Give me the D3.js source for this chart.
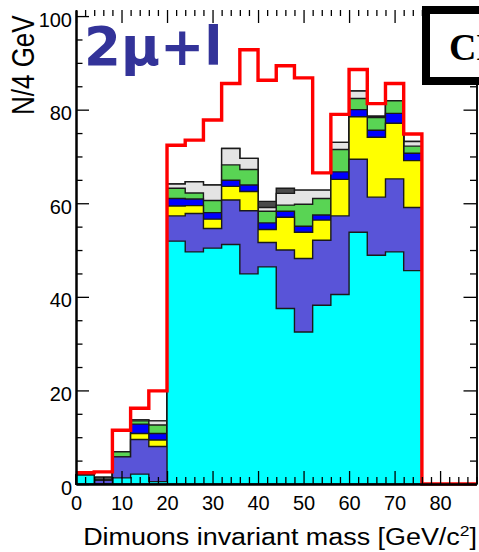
<!DOCTYPE html>
<html>
<head>
<meta charset="utf-8">
<script src="https://cdn.jsdelivr.net/npm/d3@7"></script>
<style>
body { margin: 0; background: #fff; }
svg { display: block; }
</style>
</head>
<body>
<script>
// Width and height
var w = 479,
    h = 552;

// lower edges of the 4 GeV bins
var binLow = [0, 4, 8, 12, 16, 20, 24, 28, 32, 36, 40, 44, 48, 52, 56, 60, 64, 68, 72, 76, 80, 84];

// stacked backgrounds, bottom to top, bins 0-76 GeV
var cyanVals   = [1.9, 0, 1.3, 2.1, 0.5, 51.9, 49.6, 50.4, 51.2, 44.9, 46.4, 37.5, 32.5, 38.2, 40.5, 53.8, 48.9, 49.6, 45.6];
var slateVals  = [0, 0.8, 4.5, 7.4, 7.5, 5.4, 8.2, 4.2, 9.5, 13.5, 5.2, 12.5, 15.7, 13.9, 16.8, 15.6, 12.4, 15.6, 13.5];
var yellowVals = [0, 0, 0, 1.3, 1.4, 2.1, 1.7, 2.0, 2.9, 4.1, 2.8, 7.0, 5.6, 4.3, 7.8, 9.1, 12.8, 11.9, 10.0];
var blueVals   = [0, 0, 0, 2.0, 1.4, 1.6, 1.4, 1.4, 1.3, 1.4, 1.4, 1.3, 1.3, 1.1, 1.6, 1.5, 1.5, 2.1, 1.6];
var greenVals  = [0, 0, 1.1, 0.7, 1.8, 2.2, 1.3, 2.6, 3.3, 3.3, 2.5, 1.3, 4.7, 3.5, 4.8, 2.4, 2.7, 2.7, 1.5];
var lgrayVals  = [0, 0, 0, 0.2, 0.9, 0.9, 2.4, 3.3, 3.5, 2.4, 0.8, 2.5, 3.0, 1.8, 1.5, 1.6, 0.3, 0, 1.0];
var dgrayVals  = [0, 0.7, 0, 0, 0, 0, 0, 0, 0, 0, 1.3, 1.1, 0, 0, 0, 0, 0, 0, 0];

// red histogram, all bins 0-88 GeV
var redVals = [2.4, 2.6, 11.5, 16.2, 19.9, 72.4, 73.5, 77.8, 85.6, 92.8, 86.3, 89.4, 86.8, 66.5, 79.0, 88.6, 81.3, 85.6, 74.8, 0, 0, 0];

var xTicks = [0, 10, 20, 30, 40, 50, 60, 70, 80];
var xMinor = [2, 4, 6, 8, 12, 14, 16, 18, 22, 24, 26, 28, 32, 34, 36, 38, 42, 44, 46, 48, 52, 54, 56, 58, 62, 64, 66, 68, 72, 74, 76, 78, 82, 84, 86, 88];
var yTicks = [0, 20, 40, 60, 80, 100];
var yMinor = [5, 10, 15, 25, 30, 35, 45, 50, 55, 65, 70, 75, 85, 90, 95];

var layers = [
  { vals: cyanVals,   color: '#00ffff' },
  { vals: slateVals,  color: '#5954d8' },
  { vals: yellowVals, color: '#ffff00' },
  { vals: blueVals,   color: '#0000ff' },
  { vals: greenVals,  color: '#59d454' },
  { vals: lgrayVals,  color: '#e4e4e4' },
  { vals: dgrayVals,  color: '#4a4a4a' }
];

// cumulative tops
var running = cyanVals.map(function() { return 0; });
layers.forEach(function(l) {
  l.top = l.vals.map(function(v, i) { running[i] += v; return running[i]; });
});

var xScale = d3.scaleLinear().domain([0, 88]).range([76, 476.5]);
var yScale = d3.scaleLinear().domain([0, 101.3]).range([484, 10]);

var svg = d3.select('body')
            .append('svg')
            .attr('width', w)
            .attr('height', h);

// step points: one per bin edge, last repeats the final value
function stepPoints(vals) {
  var pts = vals.map(function(v, i) { return [binLow[i], v]; });
  pts.push([binLow[vals.length - 1] + 4, vals[vals.length - 1]]);
  return pts;
}

var area = d3.area()
             .curve(d3.curveStepAfter)
             .x(function(d) { return xScale(d[0]); })
             .y0(yScale(0))
             .y1(function(d) { return yScale(d[1]); });

// draw biggest cumulative first, smaller ones on top
layers.slice().reverse().forEach(function(l) {
  svg.append('path')
     .datum(stepPoints(l.top))
     .attr('d', area)
     .attr('fill', l.color)
     .attr('stroke', '#1a1a1a')
     .attr('stroke-width', 1.4)
     .attr('stroke-linejoin', 'miter');
});

var redLine = d3.line()
                .curve(d3.curveStepAfter)
                .x(function(d) { return xScale(d[0]); })
                .y(function(d) { return yScale(d[1]); });

svg.append('path')
   .datum(stepPoints(redVals))
   .attr('d', redLine)
   .attr('fill', 'none')
   .attr('stroke', '#ff0000')
   .attr('stroke-width', 3.4);

// axes
function styleAxis(g, width) {
  g.select('.domain').attr('stroke', '#000').attr('stroke-width', width);
  g.selectAll('.tick line').attr('stroke', '#000').attr('stroke-width', 1.3);
  g.selectAll('text')
   .attr('font-family', '"Liberation Sans", Arial, sans-serif')
   .attr('font-size', 20)
   .attr('fill', '#000');
}

svg.append('g')
   .attr('transform', 'translate(0,' + yScale(0) + ')')
   .call(d3.axisBottom(xScale).tickValues(xMinor).tickSizeInner(-7).tickSizeOuter(0).tickFormat(''))
   .call(styleAxis, 2);

svg.append('g')
   .attr('transform', 'translate(0,' + yScale(0) + ')')
   .call(d3.axisBottom(xScale).tickValues(xTicks).tickSizeInner(-13).tickSizeOuter(0).tickPadding(12))
   .call(styleAxis, 2);

svg.append('g')
   .attr('transform', 'translate(0,10)')
   .call(d3.axisTop(xScale).tickValues(xMinor).tickSizeInner(-6).tickSizeOuter(0).tickFormat(''))
   .call(styleAxis, 0);

svg.append('g')
   .attr('transform', 'translate(0,10)')
   .call(d3.axisTop(xScale).tickValues(xTicks).tickSizeInner(-13).tickSizeOuter(0).tickFormat(''))
   .call(styleAxis, 0);

svg.append('g')
   .attr('transform', 'translate(' + xScale(0) + ',0)')
   .call(d3.axisLeft(yScale).tickValues(yMinor).tickSizeInner(-6.5).tickSizeOuter(0).tickFormat(''))
   .call(styleAxis, 2);

var yAx = svg.append('g')
   .attr('transform', 'translate(' + xScale(0) + ',0)')
   .call(d3.axisLeft(yScale).tickValues(yTicks).tickSizeInner(-13).tickSizeOuter(0).tickPadding(4))
   .call(styleAxis, 2);
yAx.selectAll('text').attr('dy', '0.5em');

svg.append('g')
   .attr('transform', 'translate(' + xScale(88) + ',0)')
   .call(d3.axisRight(yScale).tickValues(yMinor).tickSizeInner(-6.5).tickSizeOuter(0).tickFormat(''))
   .call(styleAxis, 1.5);

svg.append('g')
   .attr('transform', 'translate(' + xScale(88) + ',0)')
   .call(d3.axisRight(yScale).tickValues(yTicks).tickSizeInner(-13).tickSizeOuter(0).tickFormat(''))
   .call(styleAxis, 1.5);

// axis titles
svg.append('text')
   .attr('transform', 'translate(477,545) scale(1.17,1)')
   .attr('text-anchor', 'end')
   .attr('font-family', '"Liberation Sans", Arial, sans-serif')
   .attr('font-size', 23)
   .text('Dimuons invariant mass [GeV/c')
   .append('tspan')
   .attr('font-size', 15)
   .attr('dy', -9)
   .text('2')
   .select(function() { return this.parentNode; })
   .append('tspan')
   .attr('font-size', 23)
   .attr('dy', 9)
   .text(']');

svg.append('text')
   .attr('transform', 'translate(34,115) scale(1.2,1) rotate(-90)')
   .attr('font-family', '"Liberation Sans", Arial, sans-serif')
   .attr('font-size', 26)
   .text('N/4 GeV');

// channel label
svg.append('text')
   .attr('x', 84)
   .attr('y', 65)
   .attr('font-family', '"DejaVu Sans", sans-serif')
   .attr('font-weight', 'bold')
   .attr('font-size', 53)
   .attr('fill', '#333399')
   .text('2\u03bc+l');

// CMS box, partly off the page
svg.append('rect')
   .attr('x', 426)
   .attr('y', 10)
   .attr('width', 200)
   .attr('height', 71)
   .attr('fill', '#fff')
   .attr('stroke', '#000')
   .attr('stroke-width', 8);

svg.append('text')
   .attr('x', 449)
   .attr('y', 60)
   .attr('font-family', '"Liberation Serif", "Times New Roman", serif')
   .attr('font-weight', 'bold')
   .attr('font-size', 38)
   .text('CMS');
</script>
</body>
</html>
